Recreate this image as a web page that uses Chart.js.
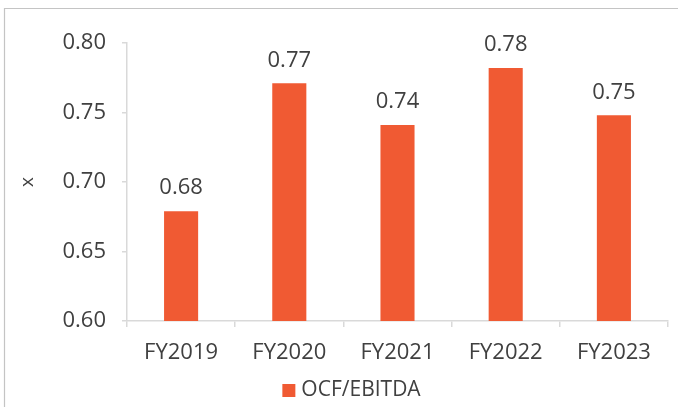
<!DOCTYPE html>
<html>
<head>
<meta charset="utf-8">
<script src="https://cdn.jsdelivr.net/npm/chart.js@4/dist/chart.umd.min.js"></script>
<style>
  html, body { margin: 0; padding: 0; background: #ffffff; }
  #wrap { width: 678px; height: 407px; position: relative; }
</style>
</head>
<body>
<div id="wrap"><canvas id="c" width="678" height="407"></canvas></div>
<script>
// Fiscal years and the OCF/EBITDA ratio for each
const years = ['FY2019', 'FY2020', 'FY2021', 'FY2022', 'FY2023'];
const ocfToEbitda = [0.679, 0.771, 0.741, 0.782, 0.748];
const seriesName = 'OCF/EBITDA';
const axisTitle = 'x';
const yMin = 0.60, yMax = 0.80, yStep = 0.05;

const textColor = '#404040';
const lineColor = '#d9d9d9';
const barColor = '#f05a33';
const fontFamily = "'Open Sans', 'Liberation Sans', sans-serif";
const fontSize = 22;

// Light frame along the left and top edges of the canvas
const framePlugin = {
  id: 'frame',
  beforeDraw(chart) {
    const ctx = chart.ctx;
    ctx.save();
    ctx.fillStyle = '#ffffff';
    ctx.fillRect(0, 0, chart.width, chart.height);
    ctx.strokeStyle = '#c4c4c4';
    ctx.lineWidth = 1.2;
    ctx.beginPath();
    ctx.moveTo(4.5, chart.height);
    ctx.lineTo(4.5, 8.5);
    ctx.lineTo(chart.width, 8.5);
    ctx.stroke();
    ctx.restore();
  }
};

// Value labels above every bar
const valueLabels = {
  id: 'valueLabels',
  afterDatasetsDraw(chart) {
    const ctx = chart.ctx;
    ctx.save();
    ctx.font = fontSize + 'px ' + fontFamily;
    ctx.fillStyle = textColor;
    ctx.textAlign = 'center';
    ctx.textBaseline = 'middle';
    chart.getDatasetMeta(0).data.forEach((bar, i) => {
      const v = chart.data.datasets[0].data[i];
      ctx.fillText(v.toFixed(2), bar.x, bar.y - 23);
    });
    ctx.restore();
  }
};

// Single-entry legend under the category axis: square swatch then series name
const seriesKey = {
  id: 'seriesKey',
  afterDraw(chart) {
    const ds = chart.data.datasets[0];
    const ctx = chart.ctx;
    ctx.save();
    ctx.font = '21px ' + fontFamily;
    const textW = ctx.measureText(ds.label).width;
    const box = 13, gap = 6;
    const total = box + gap + textW;
    const x0 = 351.5 - total / 2;
    const yMid = 390.5;
    ctx.fillStyle = ds.backgroundColor;
    ctx.fillRect(x0, yMid - box / 2, box, box);
    ctx.fillStyle = textColor;
    ctx.textAlign = 'left';
    ctx.textBaseline = 'middle';
    ctx.fillText(ds.label, x0 + box + gap, yMid);
    ctx.restore();
  }
};

new Chart(document.getElementById('c'), {
  type: 'bar',
  data: {
    labels: years,
    datasets: [{
      label: seriesName,
      data: ocfToEbitda,
      backgroundColor: barColor,
      borderWidth: 0,
      barPercentage: 0.315,
      categoryPercentage: 1.0
    }]
  },
  options: {
    responsive: false,
    animation: false,
    devicePixelRatio: 1,
    layout: { padding: { top: 43, right: 10, bottom: 0, left: 0 } },
    plugins: {
      tooltip: { enabled: false },
      legend: { display: false }
    },
    scales: {
      x: {
        offset: true,
        grid: {
          display: true,
          offset: true,
          drawOnChartArea: false,
          drawTicks: true,
          tickLength: 6,
          color: lineColor,
          lineWidth: 1.5
        },
        border: { display: true, color: lineColor, width: 1.5 },
        ticks: {
          color: textColor,
          font: { family: fontFamily, size: fontSize },
          padding: 13,
          maxRotation: 0
        },
        afterFit(scale) { scale.height = 86; }
      },
      y: {
        min: yMin,
        max: yMax,
        grid: {
          display: true,
          drawOnChartArea: false,
          drawTicks: true,
          tickLength: 5,
          color: lineColor,
          lineWidth: 1.5
        },
        border: { display: true, color: lineColor, width: 1.5 },
        ticks: {
          stepSize: yStep,
          color: textColor,
          font: { family: fontFamily, size: fontSize },
          padding: 16,
          callback: (v) => v.toFixed(2)
        },
        title: {
          display: true,
          text: axisTitle,
          color: textColor,
          font: { family: fontFamily, size: 19 },
          padding: { top: 16, bottom: 0 }
        },
        afterFit(scale) { scale.width = 127; }
      }
    }
  },
  plugins: [framePlugin, valueLabels, seriesKey]
});
</script>
</body>
</html>
